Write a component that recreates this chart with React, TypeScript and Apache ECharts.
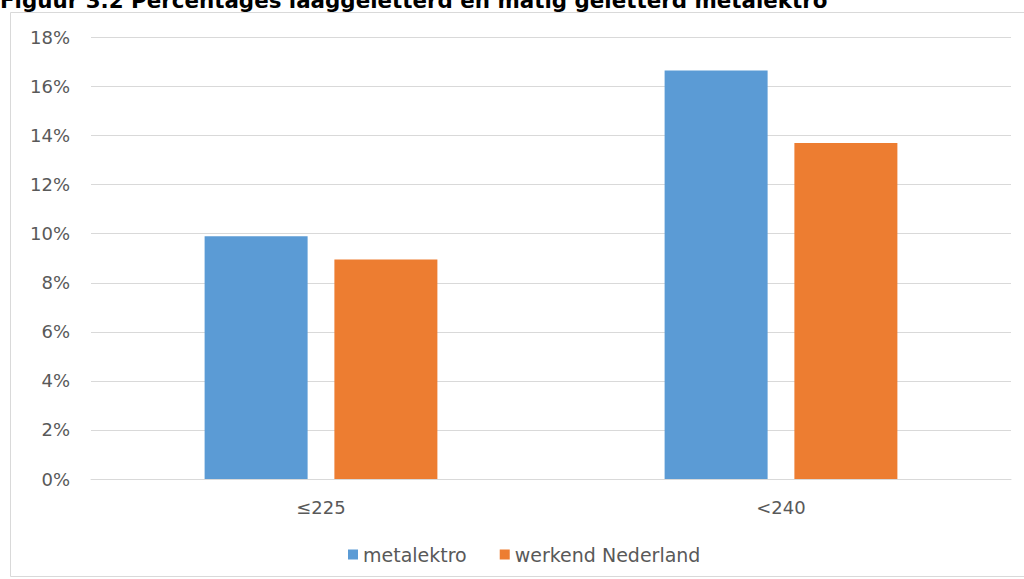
import React, { useEffect, useRef } from "react";
import * as echarts from "echarts";

const titleText = "Figuur 3.2 Percentages laaggeletterd en matig geletterd metalektro";
const categories = ["≤225", "<240"];
const seriesNames = ["metalektro", "werkend Nederland"];
const metalektro = [9.9, 16.65];
const werkendNederland = [8.95, 13.7];
const yTicks = { min: 0, max: 18, interval: 2 };
const colors = ["#5b9bd5", "#ed7d31"];

export default function App() {
  const ref = useRef<HTMLDivElement>(null);
  useEffect(() => {
    document.body.style.margin = "0";
    const chart = echarts.init(ref.current!, null, { renderer: "svg" });
    const font = "DejaVu Sans";
    chart.setOption({
      animation: false,
      backgroundColor: "#ffffff",
      graphic: [
        {
          type: "rect",
          shape: { x: 10.5, y: 12.5, width: 1030, height: 564 },
          style: { fill: "none", stroke: "#d9d9d9", lineWidth: 1 },
          z: -1,
        },
        {
          type: "text",
          x: 0,
          y: 11,
          style: {
            text: titleText,
            font: "bold 21.4px 'DejaVu Sans'",
            fill: "#000000",
            verticalAlign: "bottom",
            align: "left",
          },
        },
      ],
      grid: { left: 91, right: 13, top: 37.5, bottom: 100, containLabel: false },
      legend: {
        left: 343,
        top: 540,
        itemWidth: 10,
        itemHeight: 10,
        itemGap: 33,
        icon: "rect",
        textStyle: { fontFamily: font, fontSize: 19, color: "#595959", padding: [0, 0, 0, 0] },
        data: seriesNames,
      },
      xAxis: {
        type: "category",
        data: categories,
        axisLine: { show: true, lineStyle: { color: "#d9d9d9", width: 1 } },
        axisTick: { show: false },
        axisLabel: { fontFamily: font, fontSize: 18, color: "#595959", margin: 19 },
      },
      yAxis: {
        type: "value",
        min: yTicks.min,
        max: yTicks.max,
        interval: yTicks.interval,
        axisLine: { show: false },
        axisTick: { show: false },
        splitLine: { lineStyle: { color: "#d9d9d9", width: 1 } },
        axisLabel: {
          fontFamily: font,
          fontSize: 18,
          color: "#595959",
          margin: 21,
          formatter: (v: number) => `${v}%`,
        },
      },
      series: [
        {
          name: seriesNames[0],
          type: "bar",
          data: metalektro,
          barWidth: 103,
          barGap: "26%",
          itemStyle: { color: colors[0] },
        },
        {
          name: seriesNames[1],
          type: "bar",
          data: werkendNederland,
          barWidth: 103,
          barGap: "26%",
          itemStyle: { color: colors[1] },
        },
      ],
    });
    return () => chart.dispose();
  }, []);
  return <div ref={ref} style={{ width: 1024, height: 579 }} />;
}
